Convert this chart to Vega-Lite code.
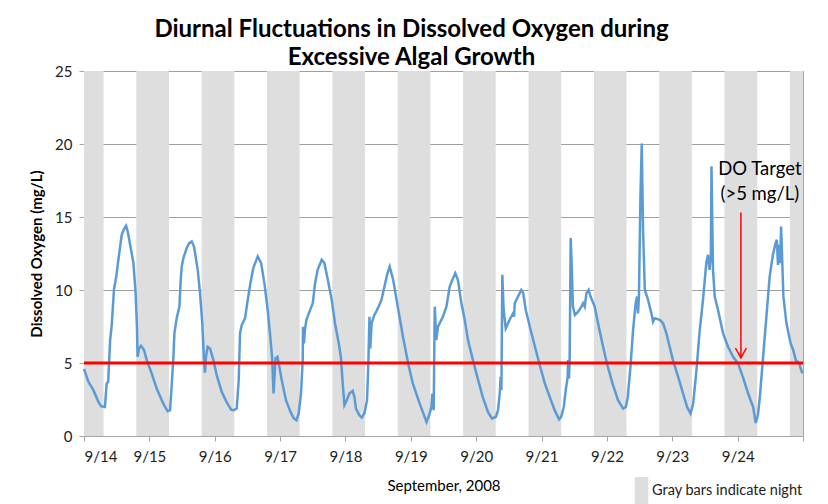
{
  "$schema": "https://vega.github.io/schema/vega-lite/v6.json",
  "width": 719,
  "height": 365,
  "autosize": "none",
  "padding": {"left": 84, "top": 71, "right": 25, "bottom": 68},
  "background": "white",
  "config": {"font": "Lato", "view": {"stroke": "#a6a6a6", "strokeWidth": 1}},
  "title": {
    "text": ["Diurnal Fluctuations in Dissolved Oxygen during", "Excessive Algal Growth"],
    "font": "Lato", "fontSize": 24, "fontWeight": "bold", "color": "#000000",
    "anchor": "middle", "dx": -32, "offset": -6, "lineHeight": 28
  },
  "datasets": {
    "night": [
      {"date": 14.0, "dateEnd": 14.3, "label": "Gray bars indicate night"},
      {"date": 14.8, "dateEnd": 15.3, "label": "Gray bars indicate night"},
      {"date": 15.8, "dateEnd": 16.3, "label": "Gray bars indicate night"},
      {"date": 16.8, "dateEnd": 17.3, "label": "Gray bars indicate night"},
      {"date": 17.8, "dateEnd": 18.3, "label": "Gray bars indicate night"},
      {"date": 18.8, "dateEnd": 19.3, "label": "Gray bars indicate night"},
      {"date": 19.8, "dateEnd": 20.3, "label": "Gray bars indicate night"},
      {"date": 20.8, "dateEnd": 21.3, "label": "Gray bars indicate night"},
      {"date": 21.8, "dateEnd": 22.3, "label": "Gray bars indicate night"},
      {"date": 22.8, "dateEnd": 23.3, "label": "Gray bars indicate night"},
      {"date": 23.8, "dateEnd": 24.3, "label": "Gray bars indicate night"},
      {"date": 24.8, "dateEnd": 25.0, "label": "Gray bars indicate night"}
    ],
    "do": [
      {"date": 14.0, "oxygen": 4.6}, {"date": 14.067, "oxygen": 3.71}, {"date": 14.144, "oxygen": 3.14},
      {"date": 14.22, "oxygen": 2.34}, {"date": 14.26, "oxygen": 2.04}, {"date": 14.32, "oxygen": 1.99},
      {"date": 14.347, "oxygen": 3.6}, {"date": 14.37, "oxygen": 3.7}, {"date": 14.4, "oxygen": 6.57},
      {"date": 14.424, "oxygen": 7.6}, {"date": 14.46, "oxygen": 10.1}, {"date": 14.49, "oxygen": 10.8},
      {"date": 14.526, "oxygen": 12.07}, {"date": 14.577, "oxygen": 13.78}, {"date": 14.612, "oxygen": 14.17},
      {"date": 14.643, "oxygen": 14.4}, {"date": 14.669, "oxygen": 14.0}, {"date": 14.72, "oxygen": 12.75},
      {"date": 14.756, "oxygen": 11.84}, {"date": 14.79, "oxygen": 9.78}, {"date": 14.81, "oxygen": 7.49},
      {"date": 14.82, "oxygen": 5.43}, {"date": 14.842, "oxygen": 6.0}, {"date": 14.872, "oxygen": 6.18},
      {"date": 14.918, "oxygen": 5.89}, {"date": 14.96, "oxygen": 5.2}, {"date": 15.036, "oxygen": 4.28},
      {"date": 15.112, "oxygen": 3.25}, {"date": 15.19, "oxygen": 2.45}, {"date": 15.24, "oxygen": 1.99},
      {"date": 15.28, "oxygen": 1.7}, {"date": 15.316, "oxygen": 1.77}, {"date": 15.34, "oxygen": 3.37},
      {"date": 15.368, "oxygen": 5.43}, {"date": 15.383, "oxygen": 7.03}, {"date": 15.418, "oxygen": 8.06},
      {"date": 15.46, "oxygen": 8.86}, {"date": 15.48, "oxygen": 10.7}, {"date": 15.495, "oxygen": 11.6},
      {"date": 15.52, "oxygen": 12.18}, {"date": 15.571, "oxygen": 12.87}, {"date": 15.607, "oxygen": 13.2},
      {"date": 15.648, "oxygen": 13.33}, {"date": 15.683, "oxygen": 12.98}, {"date": 15.74, "oxygen": 11.38},
      {"date": 15.775, "oxygen": 9.78}, {"date": 15.81, "oxygen": 7.72}, {"date": 15.836, "oxygen": 5.2},
      {"date": 15.85, "oxygen": 4.33}, {"date": 15.866, "oxygen": 5.43}, {"date": 15.893, "oxygen": 6.11},
      {"date": 15.928, "oxygen": 6.0}, {"date": 15.98, "oxygen": 5.2}, {"date": 16.03, "oxygen": 4.17},
      {"date": 16.107, "oxygen": 3.02}, {"date": 16.18, "oxygen": 2.34}, {"date": 16.25, "oxygen": 1.8},
      {"date": 16.29, "oxygen": 1.77}, {"date": 16.336, "oxygen": 1.88}, {"date": 16.367, "oxygen": 3.83},
      {"date": 16.387, "oxygen": 7.03}, {"date": 16.413, "oxygen": 7.6}, {"date": 16.464, "oxygen": 8.06},
      {"date": 16.505, "oxygen": 9.32}, {"date": 16.546, "oxygen": 10.47}, {"date": 16.59, "oxygen": 11.5},
      {"date": 16.658, "oxygen": 12.3}, {"date": 16.71, "oxygen": 11.84}, {"date": 16.76, "oxygen": 10.47},
      {"date": 16.81, "oxygen": 8.63}, {"date": 16.85, "oxygen": 6.8}, {"date": 16.877, "oxygen": 5.43},
      {"date": 16.9, "oxygen": 2.91}, {"date": 16.93, "oxygen": 5.32}, {"date": 16.96, "oxygen": 5.43},
      {"date": 16.98, "oxygen": 4.97}, {"date": 17.025, "oxygen": 3.83}, {"date": 17.09, "oxygen": 2.45},
      {"date": 17.16, "oxygen": 1.65}, {"date": 17.21, "oxygen": 1.2}, {"date": 17.25, "oxygen": 1.08},
      {"date": 17.285, "oxygen": 1.54}, {"date": 17.32, "oxygen": 2.91}, {"date": 17.346, "oxygen": 5.2},
      {"date": 17.35, "oxygen": 7.49}, {"date": 17.366, "oxygen": 6.35}, {"date": 17.38, "oxygen": 7.26},
      {"date": 17.403, "oxygen": 7.95}, {"date": 17.45, "oxygen": 8.52}, {"date": 17.5, "oxygen": 9.09},
      {"date": 17.535, "oxygen": 10.47}, {"date": 17.575, "oxygen": 11.38}, {"date": 17.637, "oxygen": 12.07},
      {"date": 17.678, "oxygen": 11.84}, {"date": 17.73, "oxygen": 10.7}, {"date": 17.79, "oxygen": 9.32},
      {"date": 17.84, "oxygen": 7.72}, {"date": 17.897, "oxygen": 6.35}, {"date": 17.93, "oxygen": 5.43},
      {"date": 17.958, "oxygen": 3.6}, {"date": 17.984, "oxygen": 2.11}, {"date": 18.01, "oxygen": 2.34},
      {"date": 18.06, "oxygen": 2.91}, {"date": 18.11, "oxygen": 3.09}, {"date": 18.137, "oxygen": 2.68},
      {"date": 18.16, "oxygen": 1.88}, {"date": 18.214, "oxygen": 1.42}, {"date": 18.25, "oxygen": 1.26},
      {"date": 18.29, "oxygen": 1.54}, {"date": 18.33, "oxygen": 2.45}, {"date": 18.35, "oxygen": 4.97},
      {"date": 18.367, "oxygen": 8.17}, {"date": 18.38, "oxygen": 6.0}, {"date": 18.4, "oxygen": 7.72},
      {"date": 18.443, "oxygen": 8.29}, {"date": 18.483, "oxygen": 8.63}, {"date": 18.55, "oxygen": 9.3},
      {"date": 18.6, "oxygen": 10.3}, {"date": 18.64, "oxygen": 11.1}, {"date": 18.677, "oxygen": 11.6},
      {"date": 18.73, "oxygen": 10.7}, {"date": 18.8, "oxygen": 8.86}, {"date": 18.88, "oxygen": 6.8},
      {"date": 18.96, "oxygen": 4.97}, {"date": 19.03, "oxygen": 3.6}, {"date": 19.136, "oxygen": 2.22},
      {"date": 19.24, "oxygen": 0.96}, {"date": 19.28, "oxygen": 1.42}, {"date": 19.315, "oxygen": 1.99},
      {"date": 19.33, "oxygen": 2.91}, {"date": 19.35, "oxygen": 1.77}, {"date": 19.366, "oxygen": 8.86},
      {"date": 19.39, "oxygen": 6.57}, {"date": 19.416, "oxygen": 7.49}, {"date": 19.49, "oxygen": 8.17},
      {"date": 19.545, "oxygen": 8.86}, {"date": 19.595, "oxygen": 10.23}, {"date": 19.646, "oxygen": 10.81},
      {"date": 19.68, "oxygen": 11.15}, {"date": 19.72, "oxygen": 10.7}, {"date": 19.774, "oxygen": 9.09},
      {"date": 19.825, "oxygen": 7.95}, {"date": 19.875, "oxygen": 6.57}, {"date": 19.95, "oxygen": 5.2},
      {"date": 20.03, "oxygen": 3.83}, {"date": 20.1, "oxygen": 2.68}, {"date": 20.18, "oxygen": 1.65},
      {"date": 20.24, "oxygen": 1.2}, {"date": 20.3, "oxygen": 1.3}, {"date": 20.334, "oxygen": 1.77},
      {"date": 20.36, "oxygen": 2.91}, {"date": 20.375, "oxygen": 4.05}, {"date": 20.386, "oxygen": 3.14},
      {"date": 20.4, "oxygen": 11.04}, {"date": 20.42, "oxygen": 8.63}, {"date": 20.452, "oxygen": 7.37},
      {"date": 20.51, "oxygen": 7.95}, {"date": 20.564, "oxygen": 8.4}, {"date": 20.58, "oxygen": 8.17},
      {"date": 20.59, "oxygen": 9.09}, {"date": 20.64, "oxygen": 9.55}, {"date": 20.69, "oxygen": 10.0},
      {"date": 20.72, "oxygen": 9.78}, {"date": 20.76, "oxygen": 8.6}, {"date": 20.82, "oxygen": 7.5},
      {"date": 20.9, "oxygen": 6.1}, {"date": 20.97, "oxygen": 4.9}, {"date": 21.05, "oxygen": 3.6},
      {"date": 21.125, "oxygen": 2.68}, {"date": 21.2, "oxygen": 1.77}, {"date": 21.27, "oxygen": 1.13},
      {"date": 21.3, "oxygen": 1.3}, {"date": 21.34, "oxygen": 1.99}, {"date": 21.37, "oxygen": 3.14},
      {"date": 21.4, "oxygen": 4.05}, {"date": 21.405, "oxygen": 5.2}, {"date": 21.42, "oxygen": 3.94},
      {"date": 21.43, "oxygen": 5.2}, {"date": 21.446, "oxygen": 13.56}, {"date": 21.46, "oxygen": 11.84},
      {"date": 21.48, "oxygen": 8.86}, {"date": 21.51, "oxygen": 8.29}, {"date": 21.56, "oxygen": 8.52},
      {"date": 21.61, "oxygen": 8.86}, {"date": 21.635, "oxygen": 9.09}, {"date": 21.66, "oxygen": 8.86},
      {"date": 21.687, "oxygen": 9.78}, {"date": 21.72, "oxygen": 10.0}, {"date": 21.75, "oxygen": 9.55},
      {"date": 21.813, "oxygen": 8.86}, {"date": 21.864, "oxygen": 7.72}, {"date": 21.93, "oxygen": 6.35},
      {"date": 22.0, "oxygen": 4.97}, {"date": 22.085, "oxygen": 3.6}, {"date": 22.17, "oxygen": 2.45},
      {"date": 22.247, "oxygen": 1.88}, {"date": 22.29, "oxygen": 1.99}, {"date": 22.32, "oxygen": 2.68},
      {"date": 22.364, "oxygen": 4.97}, {"date": 22.4, "oxygen": 7.26}, {"date": 22.44, "oxygen": 9.09},
      {"date": 22.46, "oxygen": 9.55}, {"date": 22.476, "oxygen": 8.4}, {"date": 22.49, "oxygen": 9.55},
      {"date": 22.513, "oxygen": 16.4}, {"date": 22.533, "oxygen": 20.03}, {"date": 22.553, "oxygen": 14.13},
      {"date": 22.58, "oxygen": 10.0}, {"date": 22.63, "oxygen": 9.32}, {"date": 22.68, "oxygen": 8.4},
      {"date": 22.706, "oxygen": 7.83}, {"date": 22.73, "oxygen": 8.06}, {"date": 22.81, "oxygen": 7.95},
      {"date": 22.86, "oxygen": 7.72}, {"date": 22.91, "oxygen": 7.03}, {"date": 22.96, "oxygen": 6.11},
      {"date": 23.01, "oxygen": 5.2}, {"date": 23.09, "oxygen": 4.05}, {"date": 23.165, "oxygen": 2.91},
      {"date": 23.226, "oxygen": 1.99}, {"date": 23.28, "oxygen": 1.54}, {"date": 23.32, "oxygen": 2.22},
      {"date": 23.37, "oxygen": 4.51}, {"date": 23.42, "oxygen": 7.26}, {"date": 23.47, "oxygen": 9.32},
      {"date": 23.52, "oxygen": 11.84}, {"date": 23.546, "oxygen": 12.41}, {"date": 23.57, "oxygen": 11.38},
      {"date": 23.59, "oxygen": 12.3}, {"date": 23.6, "oxygen": 18.47}, {"date": 23.623, "oxygen": 11.38},
      {"date": 23.65, "oxygen": 9.55}, {"date": 23.7, "oxygen": 8.63}, {"date": 23.777, "oxygen": 7.03},
      {"date": 23.853, "oxygen": 6.11}, {"date": 23.93, "oxygen": 5.43}, {"date": 24.006, "oxygen": 4.97},
      {"date": 24.08, "oxygen": 4.05}, {"date": 24.16, "oxygen": 2.91}, {"date": 24.237, "oxygen": 1.99},
      {"date": 24.277, "oxygen": 0.89}, {"date": 24.31, "oxygen": 1.42}, {"date": 24.34, "oxygen": 2.68},
      {"date": 24.39, "oxygen": 5.43}, {"date": 24.44, "oxygen": 8.17}, {"date": 24.49, "oxygen": 10.92},
      {"date": 24.54, "oxygen": 12.41}, {"date": 24.58, "oxygen": 13.21}, {"date": 24.6, "oxygen": 13.44},
      {"date": 24.617, "oxygen": 11.72}, {"date": 24.64, "oxygen": 13.1}, {"date": 24.65, "oxygen": 11.84},
      {"date": 24.665, "oxygen": 14.35}, {"date": 24.68, "oxygen": 12.3}, {"date": 24.7, "oxygen": 9.55},
      {"date": 24.747, "oxygen": 7.72}, {"date": 24.81, "oxygen": 6.35}, {"date": 24.85, "oxygen": 5.89},
      {"date": 24.89, "oxygen": 5.2}, {"date": 24.94, "oxygen": 4.97}, {"date": 24.99, "oxygen": 4.29}
    ],
    "target": [{"oxygen": 5}],
    "arrow": [{"date": 24.05, "top": 15.3, "tip": 5.35}],
    "note": [{"date": 24.34, "oxygen": 17.9, "text": "DO Target\n(>5 mg/L)"}]
  },
  "encoding": {
    "x": {
      "field": "date", "type": "quantitative",
      "scale": {"domain": [14, 25], "nice": false, "zero": false},
      "axis": {
        "title": "September, 2008", "values": [14, 15, 16, 17, 18, 19, 20, 21, 22, 23, 24, 25],
        "labelExpr": "datum.value < 25 ? '9/' + datum.value : ''",
        "grid": false, "domainColor": "#a6a6a6", "tickColor": "#a6a6a6", "tickSize": 5,
        "labelFont": "Lato", "labelFontSize": 15, "labelColor": "#222222", "labelPadding": 8,
        "titleFont": "Lato", "titleFontSize": 15, "titleFontWeight": "normal", "titleColor": "#000000", "titlePadding": 14
      }
    }
  },
  "layer": [
    {
      "data": {"name": "night"},
      "mark": {"type": "rect", "strokeWidth": 0},
      "encoding": {
        "x2": {"field": "dateEnd"},
        "color": {
          "field": "label", "type": "nominal",
          "scale": {"range": ["#dedede"]},
          "legend": {
            "title": null, "orient": "none", "legendX": 544, "legendY": 406,
            "symbolType": "M-0.5,-1H0.5V1H-0.5Z", "symbolSize": 729, "symbolStrokeWidth": 0,
            "labelFont": "Lato", "labelFontSize": 14.5, "labelColor": "#222222", "labelOffset": -3, "padding": 0
          }
        }
      }
    },
    {
      "data": {"name": "do"},
      "mark": {"type": "line", "color": "#5b9bd5", "strokeWidth": 2.5, "interpolate": "linear"},
      "encoding": {
        "y": {
          "field": "oxygen", "type": "quantitative",
          "scale": {"domain": [0, 25], "nice": false},
          "axis": {
            "title": "Dissolved Oxygen  (mg/L)", "values": [0, 5, 10, 15, 20, 25],
            "grid": true, "gridColor": "#a0a0a0", "gridWidth": 1,
            "domainColor": "#a6a6a6", "tickColor": "#a6a6a6", "tickSize": 5,
            "labelFont": "Lato", "labelFontSize": 15, "labelColor": "#222222", "labelPadding": 7,
            "titleFont": "Lato", "titleFontSize": 15, "titleFontWeight": "bold", "titleColor": "#000000", "titlePadding": 10
          }
        }
      }
    },
    {
      "data": {"name": "target"},
      "mark": {"type": "rule", "color": "#ff0000", "strokeWidth": 3},
      "encoding": {"x": null, "y": {"field": "oxygen", "type": "quantitative"}}
    },
    {
      "data": {"name": "arrow"},
      "mark": {"type": "rule", "color": "#ff0000", "strokeWidth": 1.5},
      "encoding": {
        "y": {"field": "top", "type": "quantitative"},
        "y2": {"field": "tip"}
      }
    },
    {
      "data": {"name": "arrow"},
      "mark": {"type": "point", "shape": "M-1,-1.8L0,0L1,-1.8", "size": 121, "filled": false, "stroke": "#ff0000", "strokeWidth": 1.5, "opacity": 1},
      "encoding": {
        "y": {"field": "tip", "type": "quantitative"}
      }
    },
    {
      "data": {"name": "note"},
      "mark": {"type": "text", "font": "Lato", "fontSize": 18.5, "color": "#000000", "align": "center", "baseline": "alphabetic", "lineBreak": "\n", "lineHeight": 25},
      "encoding": {
        "y": {"field": "oxygen", "type": "quantitative"},
        "text": {"field": "text"}
      }
    }
  ]
}
